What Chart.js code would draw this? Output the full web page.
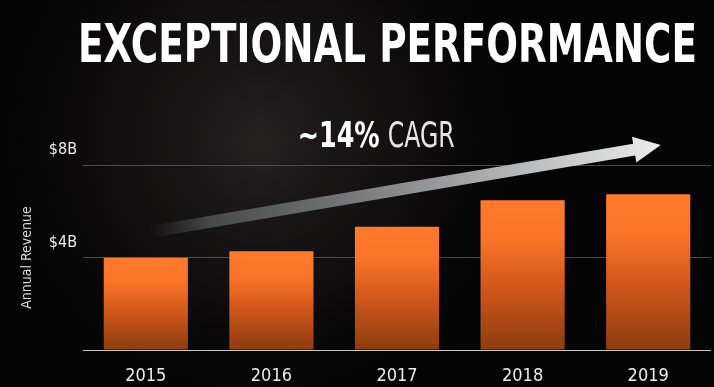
<!DOCTYPE html>
<html>
<head>
<meta charset="utf-8">
<script src="https://cdn.jsdelivr.net/npm/chart.js@4.4.1/dist/chart.umd.min.js"></script>
<style>
  html, body { margin: 0; padding: 0; background: #060606; }
  #wrap { width: 714px; height: 387px; position: relative; }
</style>
</head>
<body>
<div id="wrap"><canvas id="c"></canvas></div>
<script>
// 数据
const years = ['2015', '2016', '2017', '2018', '2019'];
const revenue = [3.99, 4.27, 5.33, 6.48, 6.73]; // 单位 $B
const yTickValues = [0, 4, 8];
const titleText = 'EXCEPTIONAL PERFORMANCE';
const cagrValue = '~14%';
const cagrLabel = 'CAGR';
const yAxisTitle = 'Annual Revenue';
// 箭头与标注的锚点（数据坐标：类别索引, 数值）
const arrowFrom = { x: 0.03, y: 5.1 };
const arrowTo = { x: 4.1, y: 8.86 };
const cagrAnchor = { x: 1.21, y: 8.78 };

const narrowFont = "'Liberation Sans Narrow', 'DejaVu Sans Condensed', Roboto, sans-serif";

function fitText(ctx, text, x, y, width) {
  const w = ctx.measureText(text).width;
  ctx.save();
  ctx.translate(x, y);
  ctx.scale(width / w, 1);
  ctx.fillText(text, 0, 0);
  ctx.restore();
}

const backdrop = {
  id: 'backdrop',
  beforeDraw(chart) {
    const ctx = chart.ctx;
    const w = chart.width, h = chart.height;
    ctx.save();
    ctx.fillStyle = '#040404';
    ctx.fillRect(0, 0, w, h);
    const g = ctx.createRadialGradient(260, 140, 10, 260, 140, 300);
    g.addColorStop(0, 'rgba(40,34,35,0.9)');
    g.addColorStop(0.5, 'rgba(24,20,21,0.6)');
    g.addColorStop(1, 'rgba(4,4,4,0)');
    ctx.fillStyle = g;
    ctx.fillRect(0, 0, w, h);
    ctx.restore();
  }
};

const decorations = {
  id: 'decorations',
  afterDraw(chart) {
    const ctx = chart.ctx;
    const xs = chart.scales.x, ys = chart.scales.y;
    ctx.save();

    // 标题
    ctx.font = 'bold 53px ' + narrowFont;
    ctx.textBaseline = 'alphabetic';
    const tg = ctx.createLinearGradient(0, 24, 0, 62);
    tg.addColorStop(0, '#ffffff');
    tg.addColorStop(0.5, '#e6e6e6');
    tg.addColorStop(1, '#9c9c9c');
    ctx.fillStyle = tg;
    fitText(ctx, titleText, 78, 62, 619);

    // 箭头
    const x0 = xs.getPixelForValue(arrowFrom.x), y0 = ys.getPixelForValue(arrowFrom.y);
    const x1 = xs.getPixelForValue(arrowTo.x), y1 = ys.getPixelForValue(arrowTo.y);
    const len = Math.hypot(x1 - x0, y1 - y0);
    const ang = Math.atan2(y1 - y0, x1 - x0);
    ctx.translate(x0, y0);
    ctx.rotate(ang);
    const head = 27, half = 6, headHalf = 13;
    const ag = ctx.createLinearGradient(0, 0, len, 0);
    ag.addColorStop(0, 'rgba(70,70,72,0)');
    ag.addColorStop(0.12, 'rgba(85,87,89,0.8)');
    ag.addColorStop(0.55, '#959799');
    ag.addColorStop(1, '#ececec');
    ctx.fillStyle = ag;
    ctx.beginPath();
    ctx.moveTo(0, -half);
    ctx.lineTo(len - head, -half);
    ctx.lineTo(len - head, -headHalf);
    ctx.lineTo(len, 0);
    ctx.lineTo(len - head, headHalf);
    ctx.lineTo(len - head, half);
    ctx.lineTo(0, half);
    ctx.closePath();
    ctx.fill();
    ctx.setTransform(1, 0, 0, 1, 0, 0);

    // CAGR 标注
    const cx = xs.getPixelForValue(cagrAnchor.x), cy = ys.getPixelForValue(cagrAnchor.y);
    const cg = ctx.createLinearGradient(0, cy - 26, 0, cy);
    cg.addColorStop(0, '#ffffff');
    cg.addColorStop(1, '#c4c4c4');
    ctx.fillStyle = cg;
    ctx.font = 'bold 35px ' + narrowFont;
    fitText(ctx, cagrValue, cx, cy, 82);
    ctx.font = '35px ' + narrowFont;
    ctx.fillStyle = '#e4e4e4';
    fitText(ctx, cagrLabel, cx + 90, cy, 67);

    ctx.restore();
  }
};

// 每根柱子单独的竖向渐变
function barFill(context) {
  const chart = context.chart;
  const ys = chart.scales.y;
  if (!chart.chartArea || !ys) return '#f47422';
  const top = ys.getPixelForValue(context.raw);
  const bottom = ys.getPixelForValue(0);
  const g = chart.ctx.createLinearGradient(0, top, 0, bottom);
  g.addColorStop(0, '#ff7a2c');
  g.addColorStop(0.25, '#fb7428');
  g.addColorStop(0.6, '#cf561b');
  g.addColorStop(1, '#8c3c0f');
  return g;
}

new Chart(document.getElementById('c'), {
  type: 'bar',
  data: {
    labels: years,
    datasets: [{
      label: yAxisTitle,
      data: revenue,
      backgroundColor: barFill,
      borderWidth: 0,
      categoryPercentage: 1,
      barPercentage: 0.67
    }]
  },
  options: {
    responsive: true,
    maintainAspectRatio: false,
    animation: false,
    layout: { padding: { top: 165, right: 3, left: 0, bottom: 0 } },
    plugins: {
      legend: { display: false },
      tooltip: { enabled: false }
    },
    scales: {
      x: {
        grid: { display: false },
        border: { display: false },
        ticks: {
          color: '#ececec',
          padding: 8,
          font: { family: narrowFont, size: 18 }
        },
        afterFit(scale) { scale.height = 37; }
      },
      y: {
        min: 0,
        max: 8,
        border: { display: false },
        grid: {
          drawTicks: false,
          lineWidth: 1,
          color: (c) => (c.tick && c.tick.value === 0 ? '#c8c8c8' : '#4a4a4a')
        },
        afterBuildTicks(scale) {
          scale.ticks = yTickValues.map((v) => ({ value: v }));
        },
        ticks: {
          color: '#ececec',
          padding: 6,
          labelOffset: -15,
          font: { family: narrowFont, size: 16 },
          callback: (v) => (v === 0 ? '' : '$' + v + 'B')
        },
        title: {
          display: true,
          text: yAxisTitle,
          color: '#dcdcdc',
          font: { family: narrowFont, size: 14 },
          padding: { top: 19, bottom: 0 }
        },
        afterFit(scale) { scale.width = 83; }
      }
    }
  },
  plugins: [backdrop, decorations]
});
</script>
</body>
</html>
